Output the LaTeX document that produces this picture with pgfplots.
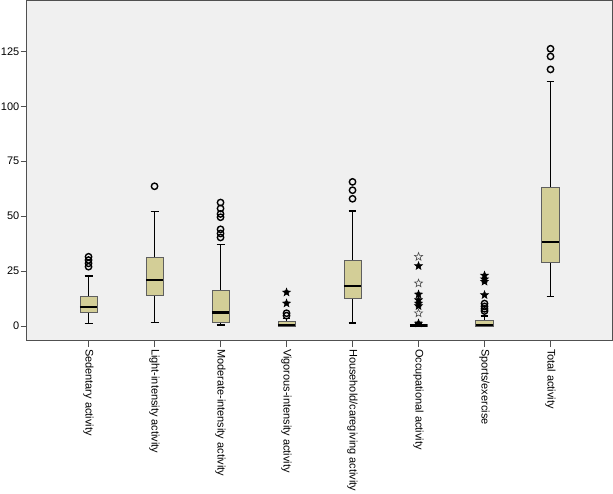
\documentclass[border=0pt]{standalone}
\usepackage{pgfplots}
\pgfplotsset{compat=1.18}
\usepgfplotslibrary{statistics}
\usepackage{fontspec}
\setmainfont{Liberation Sans}
\definecolor{bg}{RGB}{240,240,240}
\definecolor{boxfill}{RGB}{211,206,151}
\definecolor{framec}{RGB}{80,80,80}
\definecolor{boxedge}{RGB}{95,95,95}
\pgfdeclareplotmark{fstar}{%
  \pgfpathmoveto{\pgfpointpolar{90}{\pgfplotmarksize}}%
  \pgfpathlineto{\pgfpointpolar{126}{0.42\pgfplotmarksize}}%
  \pgfpathlineto{\pgfpointpolar{162}{\pgfplotmarksize}}%
  \pgfpathlineto{\pgfpointpolar{198}{0.42\pgfplotmarksize}}%
  \pgfpathlineto{\pgfpointpolar{234}{\pgfplotmarksize}}%
  \pgfpathlineto{\pgfpointpolar{270}{0.42\pgfplotmarksize}}%
  \pgfpathlineto{\pgfpointpolar{306}{\pgfplotmarksize}}%
  \pgfpathlineto{\pgfpointpolar{342}{0.42\pgfplotmarksize}}%
  \pgfpathlineto{\pgfpointpolar{18}{\pgfplotmarksize}}%
  \pgfpathlineto{\pgfpointpolar{54}{0.42\pgfplotmarksize}}%
  \pgfpathclose
  \pgfusepathqfillstroke}
\pgfdeclareplotmark{ostar}{%
  \pgfpathmoveto{\pgfpointpolar{90}{\pgfplotmarksize}}%
  \pgfpathlineto{\pgfpointpolar{126}{0.42\pgfplotmarksize}}%
  \pgfpathlineto{\pgfpointpolar{162}{\pgfplotmarksize}}%
  \pgfpathlineto{\pgfpointpolar{198}{0.42\pgfplotmarksize}}%
  \pgfpathlineto{\pgfpointpolar{234}{\pgfplotmarksize}}%
  \pgfpathlineto{\pgfpointpolar{270}{0.42\pgfplotmarksize}}%
  \pgfpathlineto{\pgfpointpolar{306}{\pgfplotmarksize}}%
  \pgfpathlineto{\pgfpointpolar{342}{0.42\pgfplotmarksize}}%
  \pgfpathlineto{\pgfpointpolar{18}{\pgfplotmarksize}}%
  \pgfpathlineto{\pgfpointpolar{54}{0.42\pgfplotmarksize}}%
  \pgfpathclose
  \pgfusepathqstroke}
\begin{document}
\begin{tikzpicture}
\begin{axis}[
  scale only axis, width=587pt, height=341pt,
  xmin=-0.94, xmax=7.94, ymin=-6.8, ymax=148.2,
  axis background/.style={fill=bg},
  axis line style={draw=framec, line width=0.9pt},
  xtick={0,1,2,3,4,5,6,7},
  xticklabels={Sedentary activity, Light-intensity activity, Moderate-intensity activity, Vigorous-intensity activity, Household/caregiving activity, Occupational activity, Sports/exercise, Total activity},
  xticklabel style={rotate=-90, anchor=west, font=\fontsize{11}{13}\selectfont, inner sep=2pt},
  ytick={0,25,50,75,100,125},
  yticklabel style={font=\fontsize{11}{13}\selectfont, inner sep=1pt},
  /pgf/number format/assume math mode=true,
  tick align=outside, tick pos=left,
  major tick length=6pt,
  every tick/.style={draw=framec, line width=0.9pt},
  boxplot/draw direction=y,
  boxplot/box extend=0.26,
  boxplot/whisker extend=0.12,
  boxplot/every box/.style={fill=boxfill, draw=boxedge, line width=0.9pt},
  boxplot/every median/.style={draw=black, line width=2.2pt},
  boxplot/every whisker/.style={draw=black, line width=1.5pt},
]
\addplot[boxplot prepared={draw position=0, lower whisker=1.2, lower quartile=6.0, median=8.8, upper quartile=13.3, upper whisker=22.7}] coordinates {};
\addplot[boxplot prepared={draw position=1, lower whisker=1.5, lower quartile=14.0, median=20.9, upper quartile=31.0, upper whisker=52.0}] coordinates {};
\addplot[boxplot prepared={draw position=2, lower whisker=0.45, lower quartile=1.7, median=6.1, upper quartile=16.2, upper whisker=37.1}] coordinates {};
\addplot[boxplot prepared={draw position=3, lower whisker=0, lower quartile=0, median=0.4, upper quartile=2.0, upper whisker=3.5}] coordinates {};
\addplot[boxplot prepared={draw position=4, lower whisker=1.4, lower quartile=12.4, median=18.2, upper quartile=30.0, upper whisker=52.4}] coordinates {};
\addplot[boxplot prepared={draw position=5, lower whisker=0, lower quartile=0, median=0.2, upper quartile=0.5, upper whisker=0.8}] coordinates {};
\addplot[boxplot prepared={draw position=6, lower whisker=0, lower quartile=0, median=0.4, upper quartile=2.4, upper whisker=4.5}] coordinates {};
\addplot[boxplot prepared={draw position=7, lower whisker=13.2, lower quartile=29.0, median=38.2, upper quartile=63.2, upper whisker=111.4,
  every whisker/.style={draw=black, line width=1pt}}] coordinates {};
% circle outliers
\addplot[only marks, mark=o, mark size=3.2pt, line width=1.4pt, black] coordinates {
 (0,31.5) (0,30) (0,28.5) (0,27)
 (1,63.6)
 (2,56.2) (2,53.5) (2,51) (2,49.5) (2,44) (2,42.1) (2,40.3)
 (3,5.8) (3,4.7)
 (4,65.6) (4,61.8) (4,57.9)
 (6,10.2) (6,8.9) (6,7.8) (6,6.8)
 (7,126.2) (7,122.7) (7,116.8)
};
% filled star extremes
\addplot[only marks, mark=fstar, mark size=4.2pt, line width=0.5pt, black] coordinates {
 (3,15.3) (3,10.3)
 (5,27.3) (5,14.4) (5,11.8) (5,10.3) (5,9.1) (5,1.2)
 (6,23.0) (6,21.3) (6,20.2) (6,14.1)
};
% open star extremes
\addplot[only marks, mark=ostar, mark size=4.2pt, line width=0.6pt, black!70] coordinates {
 (5,31.5) (5,19.4) (5,5.8)
};
\end{axis}
\end{tikzpicture}
\end{document}
